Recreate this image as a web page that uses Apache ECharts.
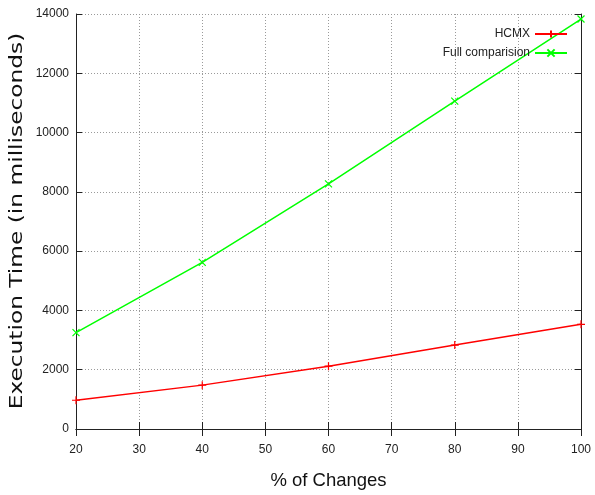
<!DOCTYPE html>
<html>
<head>
<meta charset="utf-8">
<script src="https://cdn.jsdelivr.net/npm/echarts@6/dist/echarts.min.js"></script>
<style>
html,body{margin:0;padding:0;background:#fff;}
#chart{width:595px;height:495px;}
</style>
</head>
<body>
<div id="chart"></div>
<script>
var changes = [20, 40, 60, 80, 100];
var hcmx = [970, 1480, 2120, 2830, 3530];
var fullComparison = [3250, 5620, 8270, 11060, 13830];
var seriesNames = ['HCMX', 'Full comparision'];
var xTitle = '% of Changes';
var yTitle = 'Execution Time (in milliseconds)';

var tickFont = '"Liberation Sans Narrow", "Liberation Sans", sans-serif';
var chart = echarts.init(document.getElementById('chart'), null, {renderer: 'canvas'});

function pairs(xs, ys) { return xs.map(function (x, i) { return [x, ys[i]]; }); }

var gridLine = {show: true, lineStyle: {color: '#9a9a9a', width: 1, type: [1, 2]}};
var axisLine = {show: true, lineStyle: {color: '#222', width: 1}};

var option = {
  backgroundColor: '#fff',
  animation: false,
  grid: {left: 76, right: 14, top: 14, bottom: 65, containLabel: false},
  legend: {
    orient: 'vertical', right: 27, top: 28, align: 'right', padding: 0,
    itemWidth: 32, itemHeight: 9, itemGap: 7,
    textStyle: {fontFamily: tickFont, fontSize: 12, color: '#222'},
    data: seriesNames
  },
  xAxis: [{
    type: 'value', min: 20, max: 100, interval: 10,
    axisLine: axisLine,
    axisTick: {show: true, inside: true, length: 7, lineStyle: {color: '#222'}},
    axisLabel: {fontFamily: tickFont, fontSize: 12, color: '#222', margin: 15},
    splitLine: gridLine,
    name: xTitle, nameLocation: 'middle', nameGap: 42,
    nameTextStyle: {fontFamily: '"Liberation Sans", Arial, sans-serif', fontSize: 18.5, color: '#111'}
  }, {
    type: 'value', position: 'top', min: 20, max: 100, interval: 10,
    axisLine: axisLine,
    axisTick: {show: true, inside: true, length: 7, lineStyle: {color: '#222'}},
    axisLabel: {show: false}, splitLine: {show: false}
  }],
  yAxis: [{
    type: 'value', min: 0, max: 14000, interval: 2000,
    axisLine: axisLine,
    axisTick: {show: true, inside: true, length: 6, lineStyle: {color: '#222'}},
    axisLabel: {fontFamily: tickFont, fontSize: 12, color: '#222', margin: 7,
                formatter: function (v) { return String(v); }},
    splitLine: gridLine
  }, {
    type: 'value', position: 'right', min: 0, max: 14000, interval: 2000,
    axisLine: axisLine,
    axisTick: {show: true, inside: true, length: 6, lineStyle: {color: '#222'}},
    axisLabel: {show: false}, splitLine: {show: false}
  }],
  graphic: [{
    type: 'text', x: 18, y: 221, rotation: Math.PI / 2, scaleX: 1.37,
    style: {text: yTitle, font: '17px "DejaVu Sans", sans-serif', fill: '#111',
            textAlign: 'center', textVerticalAlign: 'middle'}
  }],
  series: [{
    name: seriesNames[0], type: 'line', data: pairs(changes, hcmx),
    xAxisIndex: 0, yAxisIndex: 0,
    symbol: 'path://M5,0L5,10M0,5L10,5', symbolSize: 8,
    itemStyle: {color: '#ff0000', borderColor: '#ff0000', borderWidth: 1.2},
    lineStyle: {color: '#ff0000', width: 1.5}
  }, {
    name: seriesNames[1], type: 'line', data: pairs(changes, fullComparison),
    xAxisIndex: 0, yAxisIndex: 0,
    symbol: 'path://M0,0L10,10M10,0L0,10', symbolSize: 7,
    itemStyle: {color: '#00ff00', borderColor: '#00ff00', borderWidth: 1.2},
    lineStyle: {color: '#00ff00', width: 1.5}
  }]
};
chart.setOption(option);
</script>
</body>
</html>
